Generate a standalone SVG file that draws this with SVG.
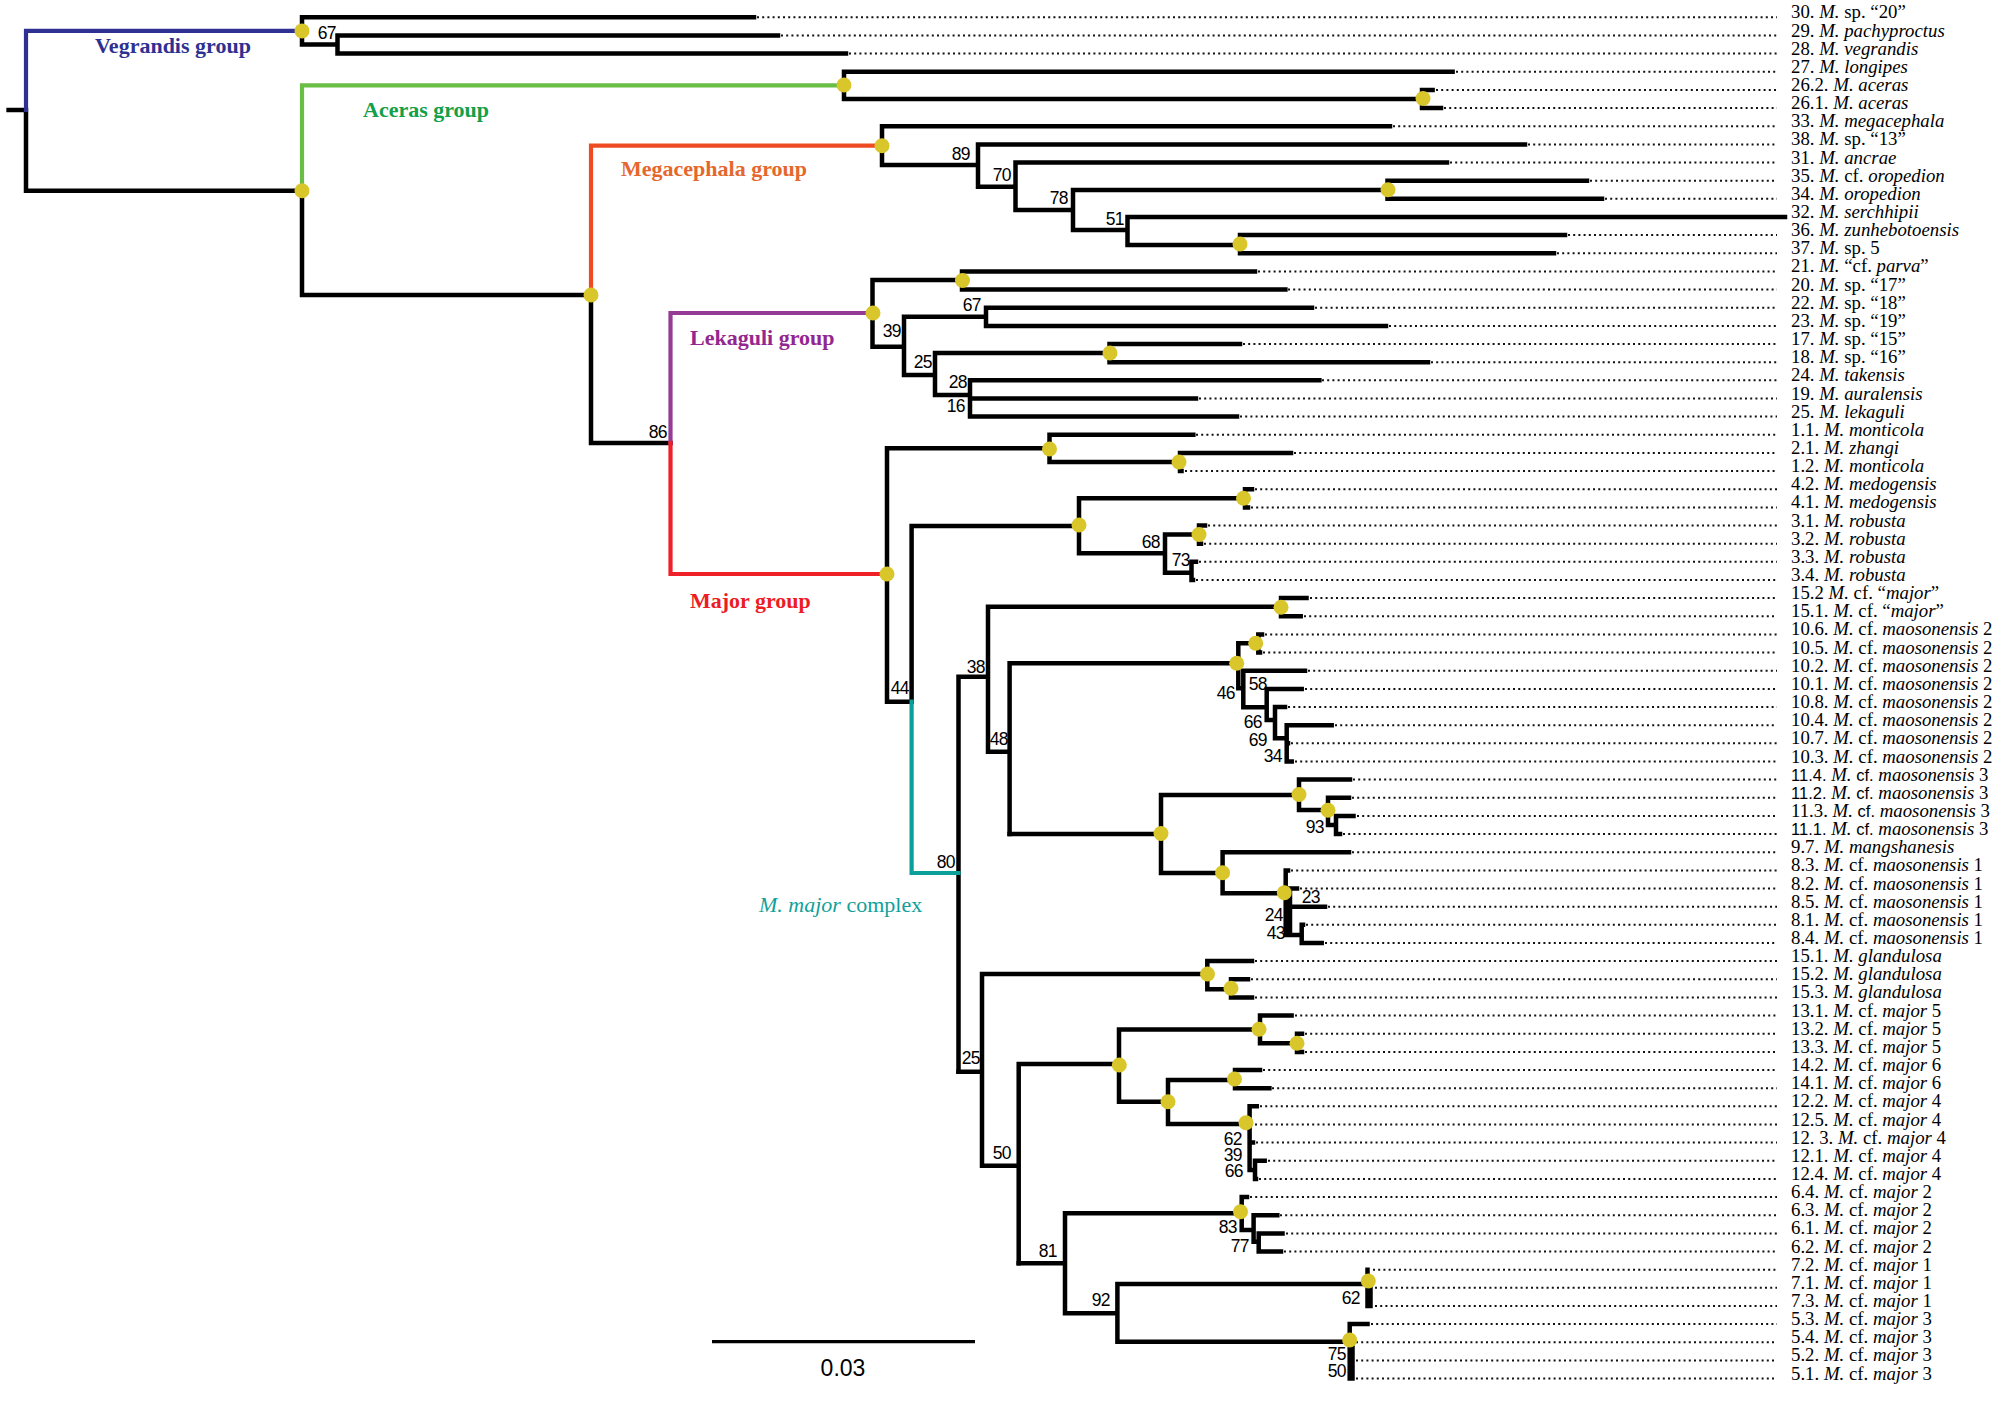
<svg xmlns="http://www.w3.org/2000/svg" width="2010" height="1407" viewBox="0 0 2010 1407">
<style>
.br{fill:none;stroke:#000;stroke-width:4.5;stroke-linecap:square}
.col{fill:none;stroke-width:4.2;stroke-linecap:square}
.ld{fill:none;stroke:#111;stroke-width:2;stroke-dasharray:2 3.2}
.nd{fill:#d9c62a}
.bs{font-family:"Liberation Sans",Arial,sans-serif;font-size:17.5px;text-anchor:end;fill:#000;letter-spacing:-0.6px}
.tx{font-family:"Liberation Serif","Times New Roman",serif;font-size:18.8px;fill:#000}
.it{font-style:italic}
.sf{font-family:"Liberation Sans",Arial,sans-serif;font-size:16.5px}
.grp{font-family:"Liberation Serif","Times New Roman",serif;font-size:22px;font-weight:bold}
.cx{font-family:"Liberation Serif","Times New Roman",serif;font-size:22px;fill:#12a09a}
</style>
<rect width="2010" height="1407" fill="#fff"/>
<g id="connectors">
<path class="br" d="M8.6,110H26 M26,110V190.7H302 M302,17.3V44.5 M302,17.3H754 M302,44.5H337.5 M337.5,35.5V53.6 M337.5,35.5H778 M337.5,53.6H846 M302,190.7V295H591 M844,71.8V99 M844,71.8H1452.6 M844,99H1422 M1422,89.9V108.1 M1422,89.9H1432.6 M1422,108.1H1441 M591,295V443H670.5"/>
<path class="br" d="M882,126.2V165 M882,126.2H1390 M882,165H978 M978,144.4V186.7 M978,144.4H1525 M978,186.7H1015.5 M1015.5,162.5V210 M1015.5,162.5H1447 M1015.5,210H1073 M1073,190V230 M1073,190H1387.5 M1387.5,180.7V198.8 M1387.5,180.7H1587 M1387.5,198.8H1602 M1073,230H1127.5 M1127.5,217V245 M1127.5,217H1785 M1127.5,245H1240 M1240,235.1V253.3 M1240,235.1H1565 M1240,253.3H1554"/>
<path class="br" d="M872.5,280V346.7 M872.5,280H962 M962,271.4V289.6 M962,271.4H1255 M962,289.6H1285.4 M872.5,346.7H904 M904,316.8V375 M904,316.8H986 M986,307.7V325.9 M986,307.7H1312 M986,325.9H1386 M904,375H935 M935,353V395 M935,353H1109.5 M1109.5,344V362.2 M1109.5,344H1240 M1109.5,362.2H1428 M935,395H970 M970,380.3V416.6 M970,380.3H1319.4 M970,398.5H1196 M970,416.6H1237"/>
<path class="br" d="M887,448.3V701.7 M887,448.3H1049.5 M1049.5,434.8V462 M1049.5,434.8H1193.3 M1049.5,462H1180 M1180,452.9V471.1 M1180,452.9H1291 M1180,471.1H1181.5 M887,701.7H911.6 M911.6,701.7V526 M911.6,526H1079 M1079,498.3V553.3 M1079,498.3H1245 M1245,489.2V507.4 M1245,489.2H1252 M1245,507.4H1248 M1079,553.3H1165 M1165,534.6V572.7 M1165,534.6H1199 M1199,525.5V543.7 M1199,525.5H1205 M1199,543.7H1201 M1165,572.7H1191.5 M1191.5,561.8V580 M1191.5,561.8H1196 M1191.5,580H1193"/>
<path class="br" d="M958.5,676.7V1071.7 M958.5,676.7H988 M988,606.7V751.7 M988,606.7H1281 M1281,598.1V616.3 M1281,598.1H1306.5 M1281,616.3H1300.7 M988,751.7H1009.6 M1009.6,663.3V834 M1009.6,663.3H1238.3 M1238.3,643.3V688.3 M1238.3,643.3H1258.3 M1258.3,634.4V652.6 M1258.3,634.4H1262 M1258.3,652.6H1260 M1238.3,688.3H1243.3 M1243.3,670.7V707.3 M1243.3,670.7H1305 M1243.3,707.3H1266.7 M1266.7,688.9V720 M1266.7,688.9H1301.7 M1266.7,720H1275 M1275,707V738.3 M1275,707H1285 M1275,738.3H1286.7 M1286.7,725.2V761.5 M1286.7,725.2H1331.7 M1286.7,743.3H1288 M1286.7,761.5H1291.7"/>
<path class="br" d="M1009.6,834H1161 M1161,795V873 M1161,795H1299 M1299,779.6V810 M1299,779.6H1350 M1299,810H1328 M1328,797.8V825 M1328,797.8H1349 M1328,825H1336 M1336,815.9V834.1 M1336,815.9H1353.5 M1336,834.1H1340 M1161,873H1222.6 M1222.6,852.2V893.3 M1222.6,852.2H1349 M1222.6,893.3H1285.7 M1285.7,870.4V935 M1285.7,870.4H1288 M1290,888.5V935 M1290,888.5H1297 M1290,906.7H1325 M1285.7,935H1301.7 M1301.7,924.8V943 M1301.7,924.8H1303 M1301.7,943H1321.7"/>
<path class="br" d="M958.5,1071.7H982 M982,974V1165.7 M982,974H1207.3 M1207.3,961.1V989.3 M1207.3,961.1H1252 M1207.3,989.3H1231 M1231,979.3V997.4 M1231,979.3H1248 M1231,997.4H1252 M982,1165.7H1018.7 M1018.7,1064V1263.3 M1018.7,1064H1119 M1119,1029.5V1101.7 M1119,1029.5H1260 M1260,1015.6V1043.3 M1260,1015.6H1291.6 M1260,1043.3H1297 M1297,1033.7V1051.9 M1297,1033.7H1302 M1297,1051.9H1302 M1119,1101.7H1168 M1168,1080V1124 M1168,1080H1235 M1235,1070V1088.2 M1235,1070H1260 M1235,1088.2H1269.4 M1168,1124H1249.6 M1249.6,1106.3V1170 M1249.6,1106.3H1256.8 M1249.6,1142.6H1253 M1249.6,1170H1255 M1255,1160.8V1178.9 M1255,1160.8H1264.7 M1255,1178.9H1256"/>
<path class="br" d="M1018.7,1263.3H1065 M1065,1213.3V1313.3 M1065,1213.3H1241.7 M1241.7,1197.1V1230 M1241.7,1197.1H1247 M1241.7,1230H1253.6 M1253.6,1215.2V1241.7 M1253.6,1215.2H1277.3 M1253.6,1241.7H1258.7 M1258.7,1233.4V1251.5 M1258.7,1233.4H1282.5 M1258.7,1251.5H1281 M1065,1313.3H1117.4 M1117.4,1284V1341.7 M1117.4,1284H1367.5 M1367.5,1269.7V1306 M1370.5,1287.8V1306 M1117.4,1341.7H1349.7 M1349.7,1324.1V1378.6 M1349.7,1324.1H1367.5 M1352.5,1342.3V1378.6"/>
<path class="col" stroke="#2e3192" d="M26,110V30.9H302"/>
<path class="col" stroke="#6abd45" d="M302,190.7V85.4H844"/>
<path class="col" stroke="#ef4b23" d="M591,295V145.7H882"/>
<path class="col" stroke="#953b96" d="M670.5,443V313H872.5"/>
<path class="col" stroke="#ee2028" d="M670.5,443V574H887"/>
<path class="col" stroke="#0a9f98" d="M911.6,701.7V873H958.5"/>
<path class="ld" d="M757,17.3H1777 M781,35.5H1777 M849,53.6H1777 M1456,71.8H1777 M1436,89.9H1777 M1444,108.1H1777 M1393,126.2H1777 M1528,144.4H1777 M1450,162.5H1777 M1590,180.7H1777 M1605,198.8H1777 M1568,235.1H1777 M1557,253.3H1777 M1258,271.4H1777 M1288,289.6H1777 M1315,307.7H1777 M1389,325.9H1777 M1243,344H1777 M1431,362.2H1777 M1322,380.3H1777 M1199,398.5H1777 M1240,416.6H1777 M1196,434.8H1777 M1294,452.9H1777 M1185,471.1H1777 M1255,489.2H1777 M1251,507.4H1777 M1208,525.5H1777 M1204,543.7H1777 M1199,561.8H1777 M1196,580H1777 M1310,598.1H1777 M1304,616.3H1777 M1265,634.4H1777 M1263,652.6H1777 M1308,670.7H1777 M1305,688.9H1777 M1288,707H1777 M1335,725.2H1777 M1291,743.3H1777 M1295,761.5H1777 M1353,779.6H1777 M1352,797.8H1777 M1357,815.9H1777 M1343,834.1H1777 M1352,852.2H1777 M1291,870.4H1777 M1300,888.5H1777 M1328,906.7H1777 M1306,924.8H1777 M1325,943H1777 M1255,961.1H1777 M1251,979.3H1777 M1255,997.4H1777 M1295,1015.6H1777 M1305,1033.7H1777 M1305,1051.9H1777 M1263,1070H1777 M1272,1088.2H1777 M1260,1106.3H1777 M1255,1124.5H1777 M1256,1142.6H1777 M1268,1160.8H1777 M1259,1178.9H1777 M1250,1197.1H1777 M1280,1215.2H1777 M1286,1233.4H1777 M1284,1251.5H1777 M1373,1269.7H1777 M1375,1287.8H1777 M1375,1306H1777 M1371,1324.1H1777 M1356,1342.3H1777 M1356,1360.4H1777 M1356,1378.6H1777"/>
</g>
<g id="internal-nodes">
<g id="n-vegrandis"><circle class="nd" cx="302" cy="30.9" r="7.5"/></g>
<g id="n-2"><circle class="nd" cx="302" cy="190.7" r="7.5"/></g>
<g id="n-aceras"><circle class="nd" cx="844" cy="85" r="7.5"/></g>
<g id="n-4"><circle class="nd" cx="1423" cy="98.5" r="7.5"/></g>
<g id="n-5"><circle class="nd" cx="591" cy="295" r="7.5"/></g>
<g id="n-megacephala"><circle class="nd" cx="882" cy="145.7" r="7.5"/></g>
<g id="n-7"><circle class="nd" cx="1388" cy="189.7" r="7.5"/></g>
<g id="n-8"><circle class="nd" cx="1240" cy="244" r="7.5"/></g>
<g id="n-lekaguli"><circle class="nd" cx="873" cy="313" r="7.5"/></g>
<g id="n-10"><circle class="nd" cx="962.5" cy="280.5" r="7.5"/></g>
<g id="n-11"><circle class="nd" cx="1110" cy="353" r="7.5"/></g>
<g id="n-major"><circle class="nd" cx="887" cy="574" r="7.5"/></g>
<g id="n-13"><circle class="nd" cx="1049.5" cy="449" r="7.5"/></g>
<g id="n-14"><circle class="nd" cx="1179" cy="462" r="7.5"/></g>
<g id="n-15"><circle class="nd" cx="1079" cy="525" r="7.5"/></g>
<g id="n-16"><circle class="nd" cx="1243.5" cy="498.3" r="7.5"/></g>
<g id="n-17"><circle class="nd" cx="1199" cy="534.5" r="7.5"/></g>
<g id="n-18"><circle class="nd" cx="1281" cy="607.2" r="7.5"/></g>
<g id="n-19"><circle class="nd" cx="1236.7" cy="663.3" r="7.5"/></g>
<g id="n-20"><circle class="nd" cx="1255.7" cy="643.3" r="7.5"/></g>
<g id="n-21"><circle class="nd" cx="1161" cy="833.5" r="7.5"/></g>
<g id="n-22"><circle class="nd" cx="1299" cy="794.5" r="7.5"/></g>
<g id="n-23"><circle class="nd" cx="1328" cy="810.3" r="7.5"/></g>
<g id="n-24"><circle class="nd" cx="1222.6" cy="872.7" r="7.5"/></g>
<g id="n-25"><circle class="nd" cx="1284.3" cy="892.7" r="7.5"/></g>
<g id="n-26"><circle class="nd" cx="1207.5" cy="974" r="7.5"/></g>
<g id="n-27"><circle class="nd" cx="1231" cy="988.3" r="7.5"/></g>
<g id="n-28"><circle class="nd" cx="1119.3" cy="1065" r="7.5"/></g>
<g id="n-29"><circle class="nd" cx="1259" cy="1029.3" r="7.5"/></g>
<g id="n-30"><circle class="nd" cx="1297" cy="1043.3" r="7.5"/></g>
<g id="n-31"><circle class="nd" cx="1168" cy="1101.7" r="7.5"/></g>
<g id="n-32"><circle class="nd" cx="1234.5" cy="1079" r="7.5"/></g>
<g id="n-33"><circle class="nd" cx="1246" cy="1122.7" r="7.5"/></g>
<g id="n-34"><circle class="nd" cx="1240.5" cy="1211.7" r="7.5"/></g>
<g id="n-35"><circle class="nd" cx="1368.3" cy="1281" r="7.5"/></g>
<g id="n-36"><circle class="nd" cx="1349.7" cy="1340" r="7.5"/></g>
</g>
<g id="support-values" class="bs">
<text x="336" y="39">67</text>
<text x="970" y="160">89</text>
<text x="1011" y="181">70</text>
<text x="1068" y="204">78</text>
<text x="1124" y="225">51</text>
<text x="901" y="337">39</text>
<text x="981" y="311">67</text>
<text x="932" y="368">25</text>
<text x="967" y="388">28</text>
<text x="965" y="412">16</text>
<text x="667" y="438">86</text>
<text x="909" y="694">44</text>
<text x="1160" y="548">68</text>
<text x="1190" y="566">73</text>
<text x="985" y="673">38</text>
<text x="1008" y="745">48</text>
<text x="1235" y="699">46</text>
<text x="1267" y="690">58</text>
<text x="1262" y="728">66</text>
<text x="1267" y="746">69</text>
<text x="1282" y="762">34</text>
<text x="1324" y="833">93</text>
<text x="955" y="868">80</text>
<text x="1320" y="903">23</text>
<text x="1283" y="921">24</text>
<text x="1285" y="939">43</text>
<text x="980" y="1064">25</text>
<text x="1011" y="1159">50</text>
<text x="1242" y="1145">62</text>
<text x="1242" y="1161">39</text>
<text x="1243" y="1177">66</text>
<text x="1057" y="1257">81</text>
<text x="1237" y="1233">83</text>
<text x="1249" y="1252">77</text>
<text x="1110" y="1306">92</text>
<text x="1360" y="1304">62</text>
<text x="1346" y="1360">75</text>
<text x="1346" y="1377">50</text>
</g>
<g id="group-labels">
<g id="g-vegrandis"><text class="grp" x="95" y="53" fill="#2e3192">Vegrandis group</text></g>
<g id="g-aceras"><text class="grp" x="363" y="117" fill="#13a04a">Aceras group</text></g>
<g id="g-megacephala"><text class="grp" x="621" y="176" fill="#e4682d">Megacephala group</text></g>
<g id="g-lekaguli"><text class="grp" x="690" y="345" fill="#93278f">Lekaguli group</text></g>
<g id="g-major"><text class="grp" x="690" y="608" fill="#ed1c24">Major group</text></g>
<g id="g-complex"><text class="cx" x="759" y="912"><tspan class="it">M. major</tspan> complex</text></g>
</g>
<g id="taxa" class="tx">
<g id="t0"><text x="1791" y="18.3">30. <tspan class="it">M.</tspan> sp. “20”</text></g>
<g id="t1"><text x="1791" y="36.5">29. <tspan class="it">M. pachyproctus</tspan></text></g>
<g id="t2"><text x="1791" y="54.6">28. <tspan class="it">M. vegrandis</tspan></text></g>
<g id="t3"><text x="1791" y="72.8">27. <tspan class="it">M. longipes</tspan></text></g>
<g id="t4"><text x="1791" y="90.9">26.2. <tspan class="it">M. aceras</tspan></text></g>
<g id="t5"><text x="1791" y="109.1">26.1. <tspan class="it">M. aceras</tspan></text></g>
<g id="t6"><text x="1791" y="127.2">33. <tspan class="it">M. megacephala</tspan></text></g>
<g id="t7"><text x="1791" y="145.4">38. <tspan class="it">M.</tspan> sp. “13”</text></g>
<g id="t8"><text x="1791" y="163.5">31. <tspan class="it">M. ancrae</tspan></text></g>
<g id="t9"><text x="1791" y="181.7">35. <tspan class="it">M.</tspan> cf. <tspan class="it">oropedion</tspan></text></g>
<g id="t10"><text x="1791" y="199.8">34. <tspan class="it">M. oropedion</tspan></text></g>
<g id="t11"><text x="1791" y="218">32. <tspan class="it">M. serchhipii</tspan></text></g>
<g id="t12"><text x="1791" y="236.1">36. <tspan class="it">M. zunhebotoensis</tspan></text></g>
<g id="t13"><text x="1791" y="254.3">37. <tspan class="it">M.</tspan> sp. 5</text></g>
<g id="t14"><text x="1791" y="272.4">21. <tspan class="it">M.</tspan> “cf. <tspan class="it">parva</tspan>”</text></g>
<g id="t15"><text x="1791" y="290.6">20. <tspan class="it">M.</tspan> sp. “17”</text></g>
<g id="t16"><text x="1791" y="308.7">22. <tspan class="it">M.</tspan> sp. “18”</text></g>
<g id="t17"><text x="1791" y="326.9">23. <tspan class="it">M.</tspan> sp. “19”</text></g>
<g id="t18"><text x="1791" y="345">17. <tspan class="it">M.</tspan> sp. “15”</text></g>
<g id="t19"><text x="1791" y="363.2">18. <tspan class="it">M.</tspan> sp. “16”</text></g>
<g id="t20"><text x="1791" y="381.3">24. <tspan class="it">M. takensis</tspan></text></g>
<g id="t21"><text x="1791" y="399.5">19. <tspan class="it">M. auralensis</tspan></text></g>
<g id="t22"><text x="1791" y="417.6">25. <tspan class="it">M. lekaguli</tspan></text></g>
<g id="t23"><text x="1791" y="435.8">1.1. <tspan class="it">M. monticola</tspan></text></g>
<g id="t24"><text x="1791" y="453.9">2.1. <tspan class="it">M. zhangi</tspan></text></g>
<g id="t25"><text x="1791" y="472.1">1.2. <tspan class="it">M. monticola</tspan></text></g>
<g id="t26"><text x="1791" y="490.2">4.2. <tspan class="it">M. medogensis</tspan></text></g>
<g id="t27"><text x="1791" y="508.4">4.1. <tspan class="it">M. medogensis</tspan></text></g>
<g id="t28"><text x="1791" y="526.5">3.1. <tspan class="it">M. robusta</tspan></text></g>
<g id="t29"><text x="1791" y="544.7">3.2. <tspan class="it">M. robusta</tspan></text></g>
<g id="t30"><text x="1791" y="562.8">3.3. <tspan class="it">M. robusta</tspan></text></g>
<g id="t31"><text x="1791" y="581">3.4. <tspan class="it">M. robusta</tspan></text></g>
<g id="t32"><text x="1791" y="599.1">15.2 <tspan class="it">M.</tspan> cf. “<tspan class="it">major</tspan>”</text></g>
<g id="t33"><text x="1791" y="617.3">15.1. <tspan class="it">M.</tspan> cf. “<tspan class="it">major</tspan>”</text></g>
<g id="t34"><text x="1791" y="635.4">10.6. <tspan class="it">M.</tspan> cf. <tspan class="it">maosonensis</tspan> 2</text></g>
<g id="t35"><text x="1791" y="653.6">10.5. <tspan class="it">M.</tspan> cf. <tspan class="it">maosonensis</tspan> 2</text></g>
<g id="t36"><text x="1791" y="671.7">10.2. <tspan class="it">M.</tspan> cf. <tspan class="it">maosonensis</tspan> 2</text></g>
<g id="t37"><text x="1791" y="689.9">10.1. <tspan class="it">M.</tspan> cf. <tspan class="it">maosonensis</tspan> 2</text></g>
<g id="t38"><text x="1791" y="708">10.8. <tspan class="it">M.</tspan> cf. <tspan class="it">maosonensis</tspan> 2</text></g>
<g id="t39"><text x="1791" y="726.2">10.4. <tspan class="it">M.</tspan> cf. <tspan class="it">maosonensis</tspan> 2</text></g>
<g id="t40"><text x="1791" y="744.3">10.7. <tspan class="it">M.</tspan> cf. <tspan class="it">maosonensis</tspan> 2</text></g>
<g id="t41"><text x="1791" y="762.5">10.3. <tspan class="it">M.</tspan> cf. <tspan class="it">maosonensis</tspan> 2</text></g>
<g id="t42"><text x="1791" y="780.6"><tspan class="sf">11.4.</tspan> <tspan class="it">M.</tspan> <tspan class="sf">cf.</tspan> <tspan class="it">maosonensis</tspan> 3</text></g>
<g id="t43"><text x="1791" y="798.8"><tspan class="sf">11.2.</tspan> <tspan class="it">M.</tspan> <tspan class="sf">cf.</tspan> <tspan class="it">maosonensis</tspan> 3</text></g>
<g id="t44"><text x="1791" y="816.9">11.3. <tspan class="it">M.</tspan> <tspan class="sf">cf.</tspan> <tspan class="it">maosonensis</tspan> 3</text></g>
<g id="t45"><text x="1791" y="835.1"><tspan class="sf">11.1.</tspan> <tspan class="it">M.</tspan> <tspan class="sf">cf.</tspan> <tspan class="it">maosonensis</tspan> 3</text></g>
<g id="t46"><text x="1791" y="853.2">9.7. <tspan class="it">M. mangshanesis</tspan></text></g>
<g id="t47"><text x="1791" y="871.4">8.3. <tspan class="it">M.</tspan> cf. <tspan class="it">maosonensis</tspan> 1</text></g>
<g id="t48"><text x="1791" y="889.5">8.2. <tspan class="it">M.</tspan> cf. <tspan class="it">maosonensis</tspan> 1</text></g>
<g id="t49"><text x="1791" y="907.7">8.5. <tspan class="it">M.</tspan> cf. <tspan class="it">maosonensis</tspan> 1</text></g>
<g id="t50"><text x="1791" y="925.8">8.1. <tspan class="it">M.</tspan> cf. <tspan class="it">maosonensis</tspan> 1</text></g>
<g id="t51"><text x="1791" y="944">8.4. <tspan class="it">M.</tspan> cf. <tspan class="it">maosonensis</tspan> 1</text></g>
<g id="t52"><text x="1791" y="962.1">15.1. <tspan class="it">M. glandulosa</tspan></text></g>
<g id="t53"><text x="1791" y="980.3">15.2. <tspan class="it">M. glandulosa</tspan></text></g>
<g id="t54"><text x="1791" y="998.4">15.3. <tspan class="it">M. glandulosa</tspan></text></g>
<g id="t55"><text x="1791" y="1016.6">13.1. <tspan class="it">M.</tspan> cf. <tspan class="it">major</tspan> 5</text></g>
<g id="t56"><text x="1791" y="1034.7">13.2. <tspan class="it">M.</tspan> cf. <tspan class="it">major</tspan> 5</text></g>
<g id="t57"><text x="1791" y="1052.9">13.3. <tspan class="it">M.</tspan> cf. <tspan class="it">major</tspan> 5</text></g>
<g id="t58"><text x="1791" y="1071">14.2. <tspan class="it">M.</tspan> cf. <tspan class="it">major</tspan> 6</text></g>
<g id="t59"><text x="1791" y="1089.2">14.1. <tspan class="it">M.</tspan> cf. <tspan class="it">major</tspan> 6</text></g>
<g id="t60"><text x="1791" y="1107.3">12.2. <tspan class="it">M.</tspan> cf. <tspan class="it">major</tspan> 4</text></g>
<g id="t61"><text x="1791" y="1125.5">12.5. <tspan class="it">M.</tspan> cf. <tspan class="it">major</tspan> 4</text></g>
<g id="t62"><text x="1791" y="1143.6">12. 3. <tspan class="it">M.</tspan> cf. <tspan class="it">major</tspan> 4</text></g>
<g id="t63"><text x="1791" y="1161.8">12.1. <tspan class="it">M.</tspan> cf. <tspan class="it">major</tspan> 4</text></g>
<g id="t64"><text x="1791" y="1179.9">12.4. <tspan class="it">M.</tspan> cf. <tspan class="it">major</tspan> 4</text></g>
<g id="t65"><text x="1791" y="1198.1">6.4. <tspan class="it">M.</tspan> cf. <tspan class="it">major</tspan> 2</text></g>
<g id="t66"><text x="1791" y="1216.2">6.3. <tspan class="it">M.</tspan> cf. <tspan class="it">major</tspan> 2</text></g>
<g id="t67"><text x="1791" y="1234.4">6.1. <tspan class="it">M.</tspan> cf. <tspan class="it">major</tspan> 2</text></g>
<g id="t68"><text x="1791" y="1252.5">6.2. <tspan class="it">M.</tspan> cf. <tspan class="it">major</tspan> 2</text></g>
<g id="t69"><text x="1791" y="1270.7">7.2. <tspan class="it">M.</tspan> cf. <tspan class="it">major</tspan> 1</text></g>
<g id="t70"><text x="1791" y="1288.8">7.1. <tspan class="it">M.</tspan> cf. <tspan class="it">major</tspan> 1</text></g>
<g id="t71"><text x="1791" y="1307">7.3. <tspan class="it">M.</tspan> cf. <tspan class="it">major</tspan> 1</text></g>
<g id="t72"><text x="1791" y="1325.1">5.3. <tspan class="it">M.</tspan> cf. <tspan class="it">major</tspan> 3</text></g>
<g id="t73"><text x="1791" y="1343.3">5.4. <tspan class="it">M.</tspan> cf. <tspan class="it">major</tspan> 3</text></g>
<g id="t74"><text x="1791" y="1361.4">5.2. <tspan class="it">M.</tspan> cf. <tspan class="it">major</tspan> 3</text></g>
<g id="t75"><text x="1791" y="1379.6">5.1. <tspan class="it">M.</tspan> cf. <tspan class="it">major</tspan> 3</text></g>
</g>
<g id="scale-bar">
<path d="M712,1341.7H975" stroke="#000" stroke-width="3.3" fill="none"/>
<text x="843" y="1376" font-family="Liberation Sans, Arial, sans-serif" font-size="23" text-anchor="middle">0.03</text>
</g>
</svg>
